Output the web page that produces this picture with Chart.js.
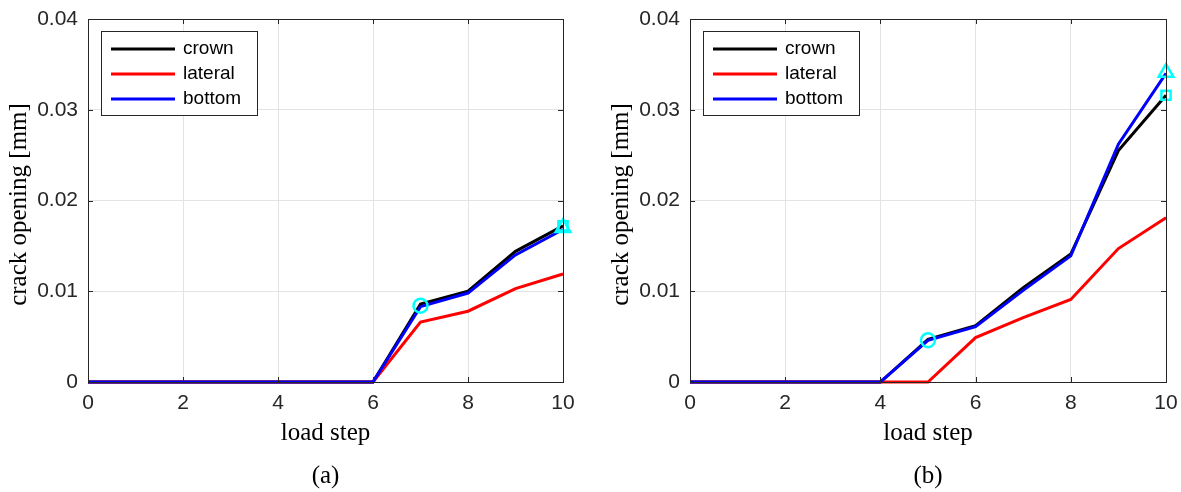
<!DOCTYPE html>
<html>
<head>
<meta charset="utf-8">
<script src="https://cdn.jsdelivr.net/npm/chart.js@4/dist/chart.umd.min.js"></script>
<style>
  html,body{margin:0;padding:0;background:#fff;}
  #wrap{position:relative;width:1181px;height:492px;overflow:hidden;}
  canvas{position:absolute;top:0;}
</style>
</head>
<body>
<div id="wrap">
  <canvas id="ca" width="600" height="492" style="left:0px"></canvas>
  <canvas id="cb" width="581" height="492" style="left:600px"></canvas>
</div>
<script>
// ---- data ----
const loadSteps = [0,1,2,3,4,5,6,7,8,9,10];
const xTicks = [0,2,4,6,8,10];
const yTicks = [0,0.01,0.02,0.03,0.04];
const seriesNames = ['crown','lateral','bottom'];

const crownA   = [0,0,0,0,0,0,0,0.0086,0.0100,0.0144,0.0172];
const lateralA = [0,0,0,0,0,0,0,0.0066,0.0078,0.0103,0.0119];
const bottomA  = [0,0,0,0,0,0,0,0.0083,0.0098,0.0140,0.0168];
const circleA   = [7, 0.0084];
const squareA   = [10, 0.0172];
const triangleA = [10, 0.0170];

const crownB   = [0,0,0,0,0,0.0047,0.0062,0.0104,0.0141,0.0255,0.0316];
const lateralB = [0,0,0,0,0,0,0.0049,0.0071,0.0091,0.0147,0.0181];
const bottomB  = [0,0,0,0,0,0.0046,0.0061,0.0101,0.0139,0.0262,0.0340];
const circleB   = [5, 0.0046];
const squareB   = [10, 0.0316];
const triangleB = [10, 0.0341];

const captionA = '(a)';
const captionB = '(b)';
const xTitle = 'load step';
const yTitle = 'crack opening [mm]';

// ---- styles ----
const AX = '#262626';
const GRID = '#e3e3e3';
const CYAN = '#00ffff';
const lineColors = ['#000000','#ff0000','#0000ff'];
const SANS = '"Liberation Sans", Arial, sans-serif';
const SERIF = '"Liberation Serif", "DejaVu Serif", serif';

function pts(vals){ return loadSteps.map((s,i)=>({x:s,y:vals[i]})); }

const frame = {
  id:'frame',
  afterDraw(chart, args, o){
    const ctx = chart.ctx, a = chart.chartArea;
    const xs = chart.scales.x, ys = chart.scales.y;
    ctx.save();
    // box
    ctx.strokeStyle = AX; ctx.lineWidth = 1;
    ctx.strokeRect(Math.round(a.left)+0.5, Math.round(a.top)+0.5, Math.round(a.right-a.left), Math.round(a.bottom-a.top));
    // inner ticks
    const tl = 5;
    ctx.beginPath();
    xTicks.forEach(v=>{
      const px = Math.round(xs.getPixelForValue(v))+0.5;
      ctx.moveTo(px, a.bottom); ctx.lineTo(px, a.bottom-tl);
      ctx.moveTo(px, a.top); ctx.lineTo(px, a.top+tl);
    });
    yTicks.forEach(v=>{
      const py = Math.round(ys.getPixelForValue(v))+0.5;
      ctx.moveTo(a.left, py); ctx.lineTo(a.left+tl, py);
      ctx.moveTo(a.right, py); ctx.lineTo(a.right-tl, py);
    });
    ctx.stroke();
    // legend
    const lx = a.left+13, ly = a.top+12, lw = 156, lh = 84;
    ctx.fillStyle = '#fff';
    ctx.fillRect(lx, ly, lw, lh);
    ctx.strokeStyle = AX;
    ctx.strokeRect(lx+0.5, ly+0.5, lw, lh);
    ctx.font = '19px ' + SANS;
    ctx.textBaseline = 'middle'; ctx.textAlign = 'left';
    seriesNames.forEach((n,i)=>{
      const yy = ly + 18 + i*25;
      ctx.strokeStyle = lineColors[i]; ctx.lineWidth = 3;
      ctx.beginPath(); ctx.moveTo(lx+10, yy); ctx.lineTo(lx+74, yy); ctx.stroke();
      ctx.fillStyle = '#000';
      ctx.fillText(n, lx+82, yy);
    });
    // titles
    ctx.fillStyle = '#000';
    ctx.font = '25px ' + SERIF;
    ctx.textAlign = 'center'; ctx.textBaseline = 'middle';
    const cx = (a.left+a.right)/2;
    ctx.fillText(xTitle, cx, 433);
    ctx.fillText(o.caption, cx, 476);
    ctx.save();
    ctx.translate(o.yTitleX, (a.top+a.bottom)/2 + 4);
    ctx.rotate(-Math.PI/2);
    ctx.fillText(yTitle, 0, 0);
    ctx.restore();
    ctx.restore();
  }
};

function zeroPad(s){ s.paddingLeft = 0; s.paddingRight = 0; s.paddingTop = 0; s.paddingBottom = 0; }

function makeChart(id, crown, lateral, bottom, circ, sq, tri, caption, padRight, yWidth, yTitleX){
  const datasets = [
    {label:'circle', data:[{x:circ[0],y:circ[1]}], showLine:false, pointStyle:'circle', pointRadius:7, pointBorderColor:CYAN, pointBackgroundColor:'rgba(0,0,0,0)', pointBorderWidth:2.5, order:-3},
    {label:'square', data:[{x:sq[0],y:sq[1]}], showLine:false, pointStyle:'rect', pointRadius:6.5, pointBorderColor:CYAN, pointBackgroundColor:'rgba(0,0,0,0)', pointBorderWidth:2.5, order:-2},
    {label:'triangle', data:[{x:tri[0],y:tri[1]}], showLine:false, pointStyle:'triangle', pointRadius:8.5, pointBorderColor:CYAN, pointBackgroundColor:'rgba(0,0,0,0)', pointBorderWidth:2.5, order:-1},
    {label:seriesNames[0], data:pts(crown), borderColor:lineColors[0], borderWidth:3, pointRadius:0, order:2},
    {label:seriesNames[1], data:pts(lateral), borderColor:lineColors[1], borderWidth:3, pointRadius:0, order:1},
    {label:seriesNames[2], data:pts(bottom), borderColor:lineColors[2], borderWidth:3, pointRadius:0, order:0},
  ];
  return new Chart(document.getElementById(id), {
    type:'line',
    data:{datasets},
    options:{
      responsive:false, animation:false, devicePixelRatio:1,
      clip:false,
      layout:{padding:{left:0, right:padRight, top:19, bottom:0}},
      plugins:{legend:{display:false}, tooltip:{enabled:false}, frame:{caption, yTitleX}},
      elements:{line:{tension:0, borderCapStyle:'butt', borderJoinStyle:'miter'}},
      scales:{
        x:{type:'linear', min:0, max:10,
           afterFit(s){ s.height = 110; zeroPad(s); },
           afterBuildTicks(s){ s.ticks = xTicks.map(v=>({value:v})); },
           ticks:{color:AX, font:{family:SANS, size:21}, padding:9, maxRotation:0,
                  callback:v=>String(v)},
           grid:{color:GRID, drawTicks:false, lineWidth:1},
           border:{display:false}},
        y:{type:'linear', min:0, max:0.04,
           afterFit(s){ s.width = yWidth; zeroPad(s); },
           afterBuildTicks(s){ s.ticks = yTicks.map(v=>({value:v})); },
           ticks:{color:AX, font:{family:SANS, size:21}, padding:10,
                  callback:v=>String(Math.round(v*100)/100)},
           grid:{color:GRID, drawTicks:false, lineWidth:1},
           border:{display:false}}
      }
    },
    plugins:[frame]
  });
}

makeChart('ca', crownA, lateralA, bottomA, circleA, squareA, triangleA, captionA, 37, 88, 19);
makeChart('cb', crownB, lateralB, bottomB, circleB, squareB, triangleB, captionB, 15, 90, 21);
</script>
</body>
</html>
